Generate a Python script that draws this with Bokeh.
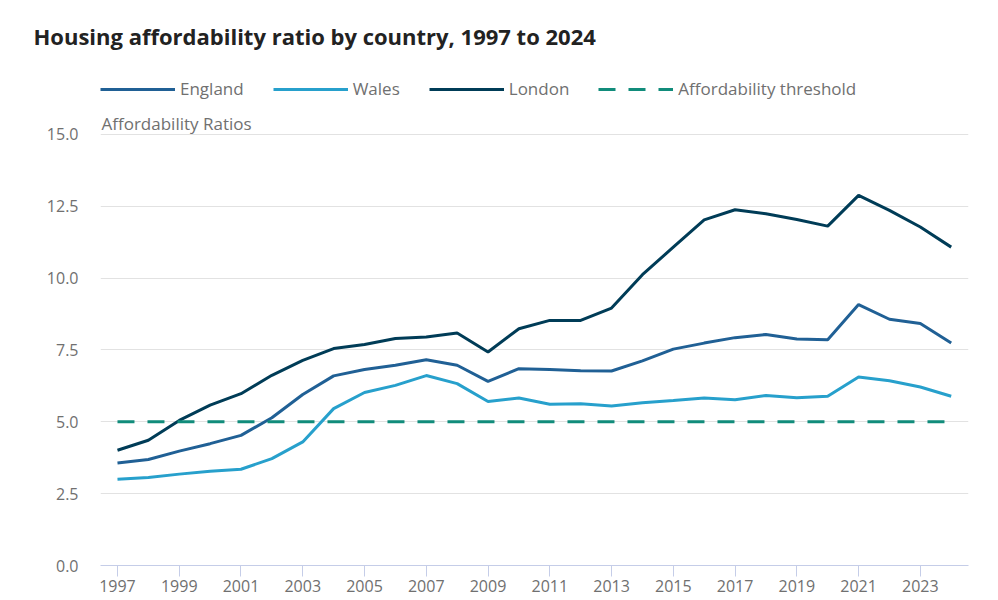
from bokeh.plotting import figure
from bokeh.models import (Range1d, FixedTicker, PrintfTickFormatter, Label,
                          Legend, LegendItem)
from bokeh.embed import file_html
from bokeh.resources import INLINE

# Housing affordability ratios (median house price / median earnings)
years = list(range(1997, 2025))

england = [3.57, 3.69, 3.98, 4.24, 4.53, 5.14, 5.95, 6.60, 6.82, 6.97,
           7.16, 6.97, 6.41, 6.85, 6.82, 6.78, 6.77, 7.12, 7.53, 7.74,
           7.93, 8.04, 7.88, 7.86, 9.08, 8.57, 8.42, 7.74]

wales = [3.00, 3.06, 3.18, 3.28, 3.35, 3.72, 4.30, 5.46, 6.02, 6.27,
         6.61, 6.33, 5.71, 5.83, 5.61, 5.63, 5.55, 5.66, 5.74, 5.83,
         5.77, 5.92, 5.84, 5.89, 6.56, 6.43, 6.21, 5.89]

london = [4.01, 4.36, 5.05, 5.58, 5.98, 6.62, 7.14, 7.55, 7.69, 7.90,
          7.95, 8.09, 7.43, 8.24, 8.53, 8.53, 8.96, 10.12, 11.08, 12.03,
          12.38, 12.24, 12.04, 11.81, 12.88, 12.36, 11.78, 11.08]

threshold = [5.0] * len(years)

y_ticks = [0, 2.5, 5, 7.5, 10, 12.5, 15]
x_ticks = list(range(1997, 2024, 2))

FONT = "Open Sans"
GREY = "#707070"

# The frame reaches up past 15.0 so the legend and caption can sit inside it
p = figure(width=998, height=600, output_backend="svg", toolbar_location=None,
           x_range=Range1d(1996.45, 2024.56), y_range=Range1d(0, 17.575),
           min_border_left=100, min_border_right=30,
           min_border_top=60, min_border_bottom=35)
p.outline_line_color = None
p.background_fill_color = "white"
p.border_fill_color = "white"

p.title.text = "Housing affordability ratio by country, 1997 to 2024"
p.title.align = "left"
p.title.offset = -67
p.title.text_font = FONT
p.title.text_font_size = "22px"
p.title.text_font_style = "bold"
p.title.text_color = "#222222"
p.title.standoff = 20

r_eng = p.line(years, england, line_color="#206095", line_width=3)
r_wal = p.line(years, wales, line_color="#27A0CC", line_width=3)
r_lon = p.line(years, london, line_color="#003C57", line_width=3)
r_thr = p.line(years, threshold, line_color="#118C7B", line_width=3,
               line_dash="17 13")

# Axes
p.xaxis.ticker = FixedTicker(ticks=x_ticks)
p.xaxis.axis_line_color = "#c5cde8"
p.xaxis.major_tick_line_color = "#c5cde8"
p.xaxis.major_tick_out = 11
p.xaxis.major_tick_in = 0
p.xaxis.minor_tick_line_color = None
p.xaxis.minor_tick_out = 0
p.xaxis.major_label_standoff = 3
p.xaxis.major_label_text_font = FONT
p.xaxis.major_label_text_font_size = "16px"
p.xaxis.major_label_text_color = GREY

p.yaxis.ticker = FixedTicker(ticks=y_ticks)
p.yaxis.formatter = PrintfTickFormatter(format="%.1f")
p.yaxis.axis_line_color = None
p.yaxis.major_tick_line_color = None
p.yaxis.minor_tick_line_color = None
p.yaxis.major_tick_out = 0
p.yaxis.major_tick_in = 0
p.yaxis.minor_tick_out = 0
p.yaxis.major_label_standoff = 22
p.yaxis.major_label_text_font = FONT
p.yaxis.major_label_text_font_size = "16px"
p.yaxis.major_label_text_color = GREY

p.xgrid.grid_line_color = None
p.ygrid.grid_line_color = "#e2e2e2"
p.ygrid.grid_line_width = 1

# Axis caption above the 15.0 gridline
p.add_layout(Label(x=1, y=442, x_units="screen", y_units="screen",
                   text="Affordability Ratios", text_font=FONT,
                   text_font_size="17px", text_color=GREY,
                   text_baseline="alphabetic"))

legend = Legend(items=[LegendItem(label="England", renderers=[r_eng]),
                       LegendItem(label="Wales", renderers=[r_wal]),
                       LegendItem(label="London", renderers=[r_lon]),
                       LegendItem(label="Affordability threshold", renderers=[r_thr])],
                orientation="horizontal", location=(0, 465),
                glyph_width=75, glyph_height=20, label_height=20,
                label_standoff=5, spacing=29, padding=0, margin=0,
                border_line_color=None, background_fill_alpha=0,
                label_text_font=FONT, label_text_font_size="17px",
                label_text_color=GREY)
p.add_layout(legend)

open("out.html", "w").write(file_html(p, INLINE))
